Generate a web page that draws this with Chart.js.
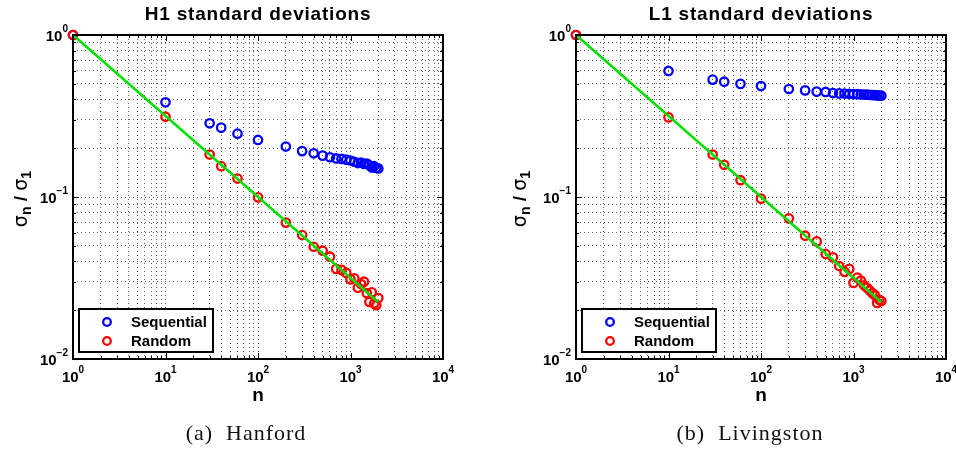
<!DOCTYPE html>
<html>
<head>
<meta charset="utf-8">
<script src="https://cdn.jsdelivr.net/npm/chart.js@4/dist/chart.umd.min.js"></script>
<style>
  body { margin: 0; background: #fff; }
  #wrap { position: relative; width: 956px; height: 452px; }
  canvas { position: absolute; top: 0; }
  .cap {
    position: absolute; top: 420px; transform: translateX(-50%);
    font-family: "Liberation Serif", "DejaVu Serif", serif; font-size: 22px;
    letter-spacing: 1px; white-space: pre; color: #111;
  }
</style>
</head>
<body>
<div id="wrap">
  <canvas id="h1" width="478" height="452" style="left:0"></canvas>
  <canvas id="l1" width="478" height="452" style="left:478px"></canvas>
  <div class="cap" style="left:246px">(a)  Hanford</div>
  <div class="cap" style="left:750px">(b)  Livingston</div>
</div>
<script>
// number of samples n
const nValues = [1, 10, 30, 40, 60, 100, 200, 300, 400, 500, 600, 700, 800, 900, 1000,
  1100, 1200, 1300, 1400, 1500, 1600, 1700, 1800, 1900, 2000];

// sigma_n / sigma_1
const h1Sequential = [1, 0.384, 0.285, 0.268, 0.246, 0.225, 0.205, 0.192, 0.186, 0.180, 0.176,
  0.173, 0.172, 0.170, 0.168, 0.165, 0.162, 0.163, 0.160, 0.161, 0.157, 0.152, 0.155, 0.151, 0.150];
const h1Random = [1, 0.313, 0.183, 0.155, 0.130, 0.0995, 0.0695, 0.0582, 0.0493, 0.0466, 0.0428,
  0.036, 0.0355, 0.034, 0.031, 0.0315, 0.0275, 0.029, 0.030, 0.0255, 0.0225, 0.0258, 0.022, 0.0215, 0.0238];
const l1Sequential = [1, 0.600, 0.530, 0.515, 0.499, 0.484, 0.464, 0.455, 0.447, 0.445, 0.438,
  0.436, 0.435, 0.434, 0.432, 0.431, 0.430, 0.429, 0.428, 0.427, 0.426, 0.425, 0.424, 0.423, 0.422];
const l1Random = [1, 0.310, 0.183, 0.158, 0.127, 0.0977, 0.0738, 0.0577, 0.0532, 0.0445, 0.0424,
  0.0375, 0.0345, 0.036, 0.0295, 0.0318, 0.0305, 0.0285, 0.0275, 0.0265, 0.0255, 0.0248, 0.0222, 0.0232, 0.0228];

// 1/sqrt(n) reference line end points
const fitN = [1, 2000];
const fitValues = [1, 0.0224];

// decade ticks
const xMajor = [1, 10, 100, 1000, 10000];
const xExp = [0, 1, 2, 3, 4];
const yMajor = [0.01, 0.1, 1];
const yExp = [-2, -1, 0];

const legendNames = ["Sequential", "Random"];

function logTicks(majors) {
  const t = [];
  majors.forEach((m, i) => {
    if (i < majors.length - 1) {
      for (let k = 1; k < 10; k++) t.push({ value: +(m * k).toPrecision(6) });
    } else t.push({ value: m });
  });
  return t;
}

function toPoints(xs, ys) {
  return xs.map((x, i) => ({ x: x, y: ys[i] }));
}

function drawPow(ctx, e, x, y, align) {
  ctx.font = "bold 15px 'Liberation Sans', Arial, sans-serif";
  const wb = ctx.measureText("10").width;
  const es = e < 0 ? "\u2212" + (-e) : String(e);
  ctx.font = "bold 10px 'Liberation Sans', Arial, sans-serif";
  const we = ctx.measureText(es).width;
  const total = wb + we;
  let x0 = align === "right" ? x - total : x - total / 2;
  ctx.textAlign = "left";
  ctx.textBaseline = "middle";
  ctx.font = "bold 15px 'Liberation Sans', Arial, sans-serif";
  ctx.fillText("10", x0, y);
  ctx.font = "bold 10px 'Liberation Sans', Arial, sans-serif";
  ctx.fillText(es, x0 + wb, y - 8);
}

const decor = {
  id: "decor",
  afterDraw(chart, args, o) {
    const ctx = chart.ctx, a = chart.chartArea;
    const xs = chart.scales.x, ys = chart.scales.y;
    ctx.save();
    ctx.fillStyle = "#000";
    ctx.strokeStyle = "#000";

    // tick marks, inside on all four sides
    ctx.lineWidth = 1;
    ctx.beginPath();
    xs.ticks.forEach(t => {
      const px = Math.round(xs.getPixelForValue(t.value)) + 0.5;
      const len = xMajor.includes(t.value) ? 6 : 3;
      ctx.moveTo(px, a.bottom); ctx.lineTo(px, a.bottom - len);
      ctx.moveTo(px, a.top); ctx.lineTo(px, a.top + len);
    });
    ys.ticks.forEach(t => {
      const py = Math.round(ys.getPixelForValue(t.value)) + 0.5;
      const len = yMajor.includes(t.value) ? 6 : 3;
      ctx.moveTo(a.left, py); ctx.lineTo(a.left + len, py);
      ctx.moveTo(a.right, py); ctx.lineTo(a.right - len, py);
    });
    ctx.stroke();

    // axes box
    ctx.lineWidth = 2;
    ctx.strokeRect(a.left, a.top, a.right - a.left, a.bottom - a.top);

    // tick labels
    xMajor.forEach((v, i) => drawPow(ctx, xExp[i], xs.getPixelForValue(v), 378, "center"));
    yMajor.forEach((v, i) => drawPow(ctx, yExp[i], a.left - 5, ys.getPixelForValue(v) + 2, "right"));

    // title
    ctx.textAlign = "center";
    ctx.textBaseline = "middle";
    ctx.font = "bold 19px 'Liberation Sans', Arial, sans-serif";
    ctx.letterSpacing = "0.8px";
    ctx.fillText(o.title, (a.left + a.right) / 2, 15);
    ctx.letterSpacing = "0px";

    // x label
    ctx.font = "bold 19px 'Liberation Sans', Arial, sans-serif";
    ctx.fillText("n", (a.left + a.right) / 2, 396);

    // y label: sigma_n / sigma_1
    ctx.save();
    ctx.translate(o.yLabelX, (a.top + a.bottom) / 2 + 2);
    ctx.rotate(-Math.PI / 2);
    const big = "19px 'DejaVu Sans', sans-serif";
    const sub = "bold 14px 'Liberation Sans', Arial, sans-serif";
    const mid = "bold 19px 'Liberation Sans', Arial, sans-serif";
    const parts = [["\u03c3", big, 0], ["n", sub, 5], [" / ", mid, 0], ["\u03c3", big, 0], ["1", sub, 5]];
    let tw = 0;
    parts.forEach(p => { ctx.font = p[1]; tw += ctx.measureText(p[0]).width; });
    let px = -tw / 2;
    ctx.textAlign = "left";
    ctx.textBaseline = "middle";
    parts.forEach(p => { ctx.font = p[1]; ctx.fillText(p[0], px, p[2]); px += ctx.measureText(p[0]).width; });
    ctx.restore();

    // legend box
    const lx = a.left + 6, ly = 309, lw = 134, lh = 43;
    ctx.fillStyle = "#fff";
    ctx.fillRect(lx, ly, lw, lh);
    ctx.lineWidth = 2;
    ctx.strokeStyle = "#000";
    ctx.strokeRect(lx, ly, lw, lh);
    const colors = ["#0000ff", "#ff0000"];
    legendNames.forEach((name, i) => {
      const yy = ly + 13 + i * 19;
      ctx.strokeStyle = colors[i];
      ctx.lineWidth = 2.3;
      ctx.beginPath();
      ctx.arc(lx + 28, yy, 3.8, 0, Math.PI * 2);
      ctx.stroke();
      ctx.fillStyle = "#000";
      ctx.font = "bold 15px 'Liberation Sans', Arial, sans-serif";
      ctx.textAlign = "left";
      ctx.textBaseline = "middle";
      ctx.fillText(name, lx + 52, yy + 1);
    });
    ctx.restore();
  }
};

function makeChart(id, cfg) {
  const gridStyle = { color: "rgba(0,0,0,0.6)", lineWidth: 1, drawTicks: false };
  new Chart(document.getElementById(id), {
    type: "scatter",
    data: {
      datasets: [
        {
          label: "fit",
          data: toPoints(fitN, fitValues),
          showLine: true,
          borderColor: "#00e000",
          borderWidth: 2.5,
          pointRadius: 0,
          order: 0,
          clip: false
        },
        {
          label: legendNames[1],
          data: toPoints(nValues, cfg.rnd),
          borderColor: "#ff0000",
          backgroundColor: "rgba(0,0,0,0)",
          pointRadius: 4.2,
          pointBorderWidth: 2.3,
          order: 1,
          clip: false
        },
        {
          label: legendNames[0],
          data: toPoints(nValues, cfg.seq),
          borderColor: "#0000ff",
          backgroundColor: "rgba(0,0,0,0)",
          pointRadius: 4.2,
          pointBorderWidth: 2.3,
          order: 2,
          clip: false
        }
      ]
    },
    options: {
      responsive: false,
      animation: false,
      events: [],
      layout: { padding: { left: 0, right: 478 - cfg.plotRight, top: 35, bottom: 0 } },
      scales: {
        x: {
          type: "logarithmic",
          min: 1,
          max: 10000,
          afterBuildTicks: s => { s.ticks = logTicks(xMajor); },
          afterFit: s => { s.height = 93; },
          ticks: { display: false, autoSkip: false },
          grid: gridStyle,
          border: { display: false, dash: [1, 3] }
        },
        y: {
          type: "logarithmic",
          min: 0.01,
          max: 1,
          afterBuildTicks: s => { s.ticks = logTicks(yMajor); },
          afterFit: s => { s.width = cfg.plotLeft; },
          ticks: { display: false, autoSkip: false },
          grid: gridStyle,
          border: { display: false, dash: [1, 3] }
        }
      },
      plugins: {
        legend: { display: false },
        tooltip: { enabled: false },
        decor: { title: cfg.title, yLabelX: cfg.yLabelX }
      }
    },
    plugins: [decor]
  });
}

makeChart("h1", { title: "H1 standard deviations", seq: h1Sequential, rnd: h1Random,
  plotLeft: 73, plotRight: 443, yLabelX: 22 });
makeChart("l1", { title: "L1 standard deviations", seq: l1Sequential, rnd: l1Random,
  plotLeft: 98, plotRight: 468, yLabelX: 43 });
</script>
</body>
</html>
